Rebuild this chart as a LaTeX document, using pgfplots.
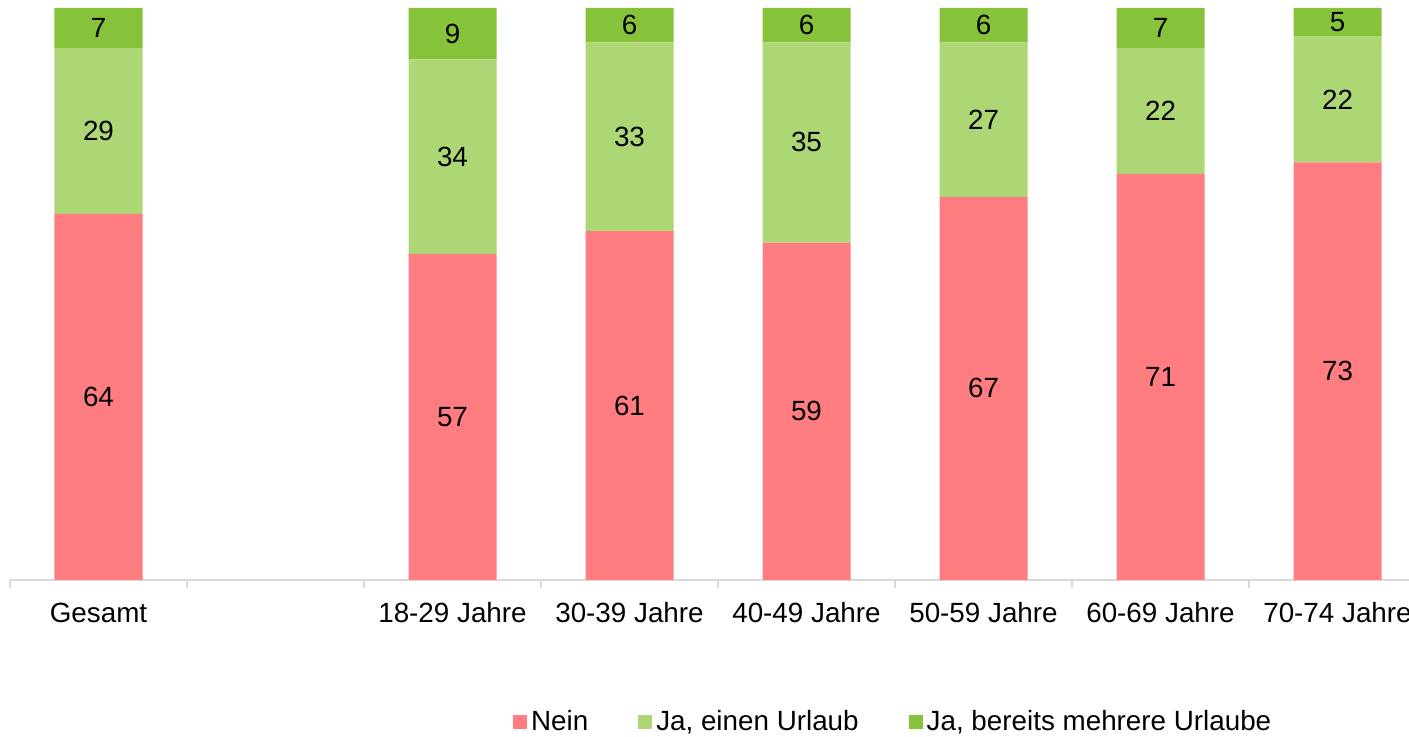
\documentclass[border=0pt]{standalone}
\usepackage{fontspec}
\setmainfont{Liberation Sans}
\usepackage{pgfplots}
\usepackage{pgfplotstable}
\pgfplotsset{compat=1.18}
\definecolor{cNein}{HTML}{FF7C80}
\definecolor{cEin}{HTML}{ADD675}
\definecolor{cMehr}{HTML}{87C33A}
\definecolor{cAxis}{HTML}{D9D9D9}
\pgfplotstableread{
x nein ein mehr
0 64 29 7
2 57 34 9
3 61 33 6
4 59 35 6
5 67 27 6
6 71 22 7
7 73 22 5
}\data
\pgfplotsset{
  common/.style={
    scale only axis, width=699.5pt, height=286pt,
    xmin=-0.5, xmax=7.404, ymin=0, ymax=100, enlargelimits=false,
    /pgf/number format/assume math mode=true,
  }
}
\begin{document}
\begin{tikzpicture}[font=\fontsize{13.9}{16}\selectfont]
\begin{axis}[common, name=ax,
  axis x line*=bottom, axis y line=none,
  x axis line style={draw=cAxis, line width=0.8pt},
  ybar stacked, bar width=44pt,
  xtick={0,...,7},
  xticklabels={Gesamt,{},18-29 Jahre,30-39 Jahre,40-49 Jahre,50-59 Jahre,60-69 Jahre,70-74 Jahre},
  major tick length=0pt,
  minor xtick={-0.5,0.5,...,6.5},
  minor tick length=4pt, tick align=outside,
  minor tick style={draw=cAxis, line width=0.8pt},
  xticklabel style={anchor=base, yshift=-21.5pt},
  legend columns=-1,
  legend image code/.code={\fill[#1] (0pt,-3.5pt) rectangle (7pt,3.5pt);},
  legend style={draw=none, at={(0.632,-0.248)}, anchor=center,
    /tikz/every even column/.append style={column sep=23pt}},
]
\addplot[fill=cNein, draw=none] table[x=x, y=nein] {\data};
\addplot[fill=cEin, draw=none] table[x=x, y=ein] {\data};
\addplot[fill=cMehr, draw=none] table[x=x, y=mehr] {\data};
\legend{Nein, {Ja, einen Urlaub}, {Ja, bereits mehrere Urlaube}}
\end{axis}
\begin{axis}[common, hide axis,
  nodes near coords, point meta=explicit,
  nodes near coords style={anchor=center, text=black},
]
\addplot[draw=none, mark=none] table[x=x, y expr=\thisrow{nein}/2, meta=nein] {\data};
\addplot[draw=none, mark=none] table[x=x, y expr=\thisrow{nein}+\thisrow{ein}/2, meta=ein] {\data};
\addplot[draw=none, mark=none] table[x=x, y expr=\thisrow{nein}+\thisrow{ein}+\thisrow{mehr}/2, meta=mehr] {\data};
\end{axis}
\pgfresetboundingbox
\path[use as bounding box] ([shift={(-5pt,-78.5pt)}]ax.south west) rectangle ++(704.5pt,368.5pt);
\end{tikzpicture}
\end{document}
